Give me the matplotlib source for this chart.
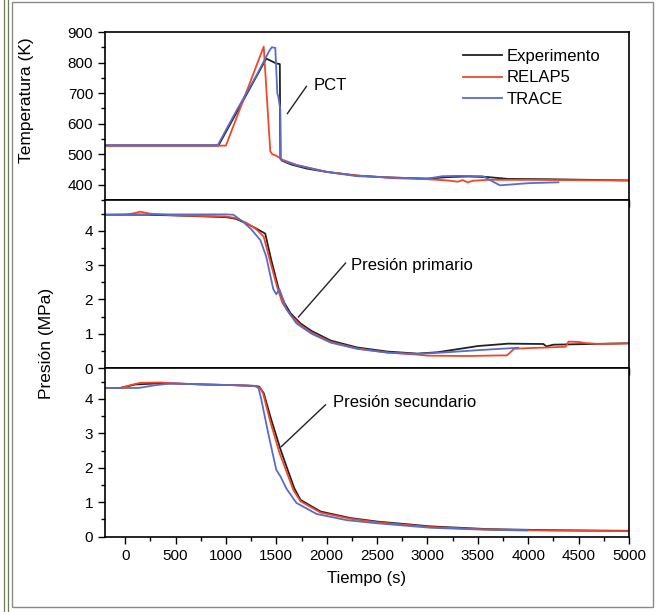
"""
Peak cladding temperature and primary / secondary pressure,
experiment vs RELAP5 vs TRACE
"""
import matplotlib
matplotlib.use('Agg')
import matplotlib.pyplot as plt
from matplotlib.patches import Rectangle
from matplotlib.lines import Line2D
from matplotlib.ticker import MultipleLocator

plt.rcParams['font.family'] = ['Liberation Sans', 'DejaVu Sans']

# %% data
# temperature (K)
t_T_exp = [-200, 925, 1000, 1100, 1200, 1300, 1400, 1500, 1535, 1540, 1560, 1650, 1800, 2000,
           2300, 2600, 3000, 3200, 3400, 3600, 3800, 4200, 4600, 5000]
T_exp = [528, 528, 573, 633, 693, 753, 813, 797, 795, 485, 478, 466, 453, 442,
         430, 424, 420, 425, 427, 425, 419, 418, 416, 414]
t_T_relap = [-200, 1000, 1375, 1440, 1460, 1500, 1560, 1700, 2000, 2300, 2700, 3000, 3200,
             3300, 3350, 3400, 3450, 3600, 4000, 4500, 5000]
T_relap = [528, 528, 852, 510, 500, 495, 482, 465, 442, 430, 421, 418, 414,
           410, 415, 408, 413, 416, 416, 415, 414]
t_T_trace = [-200, 920, 1100, 1300, 1430, 1455, 1490, 1510, 1520, 1540, 1545, 1570, 1700, 2000,
             2300, 2700, 3000, 3150, 3300, 3550, 3650, 3720, 3800, 4000, 4300]
T_trace = [530, 530, 640, 756, 838, 850, 848, 700, 688, 645, 485, 478, 464, 442,
           428, 423, 420, 428, 429, 428, 410, 398, 400, 405, 408]

# primary pressure (MPa)
t_P1_exp = [-200, 0, 200, 500, 800, 1000, 1100, 1200, 1300, 1390, 1450, 1524, 1580, 1640, 1740,
            1850, 2040, 2300, 2600, 2900, 3100, 3300, 3500, 3800, 4150, 4180, 4250, 4600, 5000]
P1_exp = [4.47, 4.47, 4.47, 4.45, 4.42, 4.40, 4.35, 4.22, 4.07, 3.92, 3.15, 2.3, 1.9, 1.6, 1.30,
          1.08, 0.80, 0.60, 0.48, 0.42, 0.46, 0.55, 0.64, 0.71, 0.70, 0.63, 0.68, 0.70, 0.72]
t_P1_relap = [-200, 0, 100, 150, 250, 500, 800, 1000, 1100, 1200, 1300, 1375, 1440, 1508, 1560,
              1640, 1740, 1850, 2040, 2300, 2600, 2900, 3000, 3400, 3790, 3860, 4000, 4200,
              4370, 4400, 4500, 4560, 4700, 5000]
P1_relap = [4.47, 4.47, 4.52, 4.56, 4.50, 4.45, 4.43, 4.42, 4.37, 4.24, 4.05, 3.83, 3.1, 2.37, 1.9,
            1.55, 1.25, 1.03, 0.76, 0.57, 0.45, 0.39, 0.36, 0.35, 0.37, 0.56, 0.58, 0.60,
            0.62, 0.77, 0.76, 0.73, 0.70, 0.72]
t_P1_trace = [-200, 0, 500, 800, 1000, 1075, 1175, 1250, 1342, 1400, 1470, 1500, 1530, 1600,
              1700, 1850, 2040, 2300, 2600, 2900, 3200, 3500, 3900]
P1_trace = [4.47, 4.48, 4.48, 4.48, 4.48, 4.47, 4.25, 4.05, 3.73, 3.25, 2.3, 2.15, 2.3, 1.72,
            1.3, 1.0, 0.74, 0.56, 0.45, 0.41, 0.46, 0.52, 0.59]

# secondary pressure (MPa)
t_P2_exp = [-200, -50, 100, 300, 500, 800, 1100, 1275, 1330, 1375, 1450, 1540, 1613, 1680, 1740,
            1940, 2240, 2500, 3030, 3600, 4200, 5000]
P2_exp = [4.32, 4.32, 4.42, 4.45, 4.45, 4.42, 4.40, 4.38, 4.36, 4.17, 3.4, 2.55, 1.94, 1.4, 1.07,
          0.73, 0.54, 0.44, 0.30, 0.22, 0.19, 0.17]
t_P2_relap = [-200, -50, 50, 150, 350, 500, 800, 1100, 1275, 1340, 1370, 1440, 1530, 1600, 1670,
              1740, 1940, 2240, 2500, 3030, 3600, 4200, 5000]
P2_relap = [4.32, 4.32, 4.40, 4.47, 4.48, 4.45, 4.42, 4.40, 4.38, 4.32, 4.15, 3.35, 2.45, 1.9, 1.35,
            1.03, 0.70, 0.52, 0.42, 0.28, 0.21, 0.18, 0.16]
t_P2_trace = [-200, 130, 300, 450, 800, 1100, 1300, 1325, 1350, 1420, 1500, 1541, 1600, 1700,
              1900, 2200, 2500, 3030, 3600, 3990]
P2_trace = [4.32, 4.32, 4.40, 4.45, 4.42, 4.40, 4.38, 4.30, 4.0, 3.0, 1.94, 1.75, 1.4, 0.98,
            0.66, 0.48, 0.39, 0.26, 0.20, 0.18]

series_names = ['Experimento', 'RELAP5', 'TRACE']
colors = ['#222222', '#f0472a', '#5a6cc6']

# %% figure
fig = plt.figure(figsize=(6.56, 6.12), dpi=100)
left, width = 105/656, 524/656
ax_T = fig.add_axes([left, 1-200/612, width, 168/612])
ax_P1 = fig.add_axes([left, 1-368/612, width, 168/612])
ax_P2 = fig.add_axes([left, 1-536.7/612, width, 168.7/612])

panels = [
    (ax_T, [(t_T_exp, T_exp), (t_T_relap, T_relap), (t_T_trace, T_trace)]),
    (ax_P1, [(t_P1_exp, P1_exp), (t_P1_relap, P1_relap), (t_P1_trace, P1_trace)]),
    (ax_P2, [(t_P2_exp, P2_exp), (t_P2_relap, P2_relap), (t_P2_trace, P2_trace)]),
]
for ax, curves in panels:
    for (t, y), c in zip(curves, colors):
        ax.plot(t, y, color=c, lw=1.3)
    ax.set_xlim(-200, 5000)
    ax.xaxis.set_major_locator(MultipleLocator(500))
    ax.xaxis.set_minor_locator(MultipleLocator(250))
    ax.tick_params(which='both', direction='out', labelsize=11, width=1)
    ax.tick_params(which='major', length=5)
    ax.tick_params(which='minor', length=3)
    for s in ax.spines.values():
        s.set_linewidth(1.2)

ax_T.set_ylim(350, 900)
ax_T.yaxis.set_major_locator(MultipleLocator(100))
ax_T.yaxis.set_minor_locator(MultipleLocator(50))
for ax in (ax_P1, ax_P2):
    ax.set_ylim(0, 4.9)
    ax.yaxis.set_major_locator(MultipleLocator(1))
    ax.yaxis.set_minor_locator(MultipleLocator(0.5))
ax_T.tick_params(axis='x', labelbottom=False)
ax_P1.tick_params(axis='x', labelbottom=False)

# legend
handles = [Line2D([], [], color=c, lw=1.3) for c in colors]
ax_T.legend(handles, series_names, loc='upper left', bbox_to_anchor=(0.667, 0.95),
            frameon=False, fontsize=12, borderpad=0, handlelength=2.35,
            handletextpad=0.3, labelspacing=0.4)

# annotations
ax_T.plot([1610, 1799], [633, 722], color='#222222', lw=1)
ax_T.text(1869, 726, 'PCT', fontsize=12, va='center', ha='left')
ax_P1.plot([1720, 2187], [1.49, 3.06], color='#222222', lw=1)
ax_P1.text(2237, 3.0, 'Presión primario', fontsize=12, va='center', ha='left')
ax_P2.plot([1551, 1988], [2.62, 3.83], color='#222222', lw=1)
ax_P2.text(2058, 3.89, 'Presión secundario', fontsize=12, va='center', ha='left')

# axis labels
fig.text(27/656, 1-100/612, 'Temperatura (K)', rotation=90, fontsize=12.5,
         ha='center', va='center')
fig.text(47/656, 1-343/612, 'Presión (MPa)', rotation=90, fontsize=12.5,
         ha='center', va='center')
fig.text(367/656, 1-578/612, 'Tiempo (s)', fontsize=12, ha='center', va='center')

# page frame from the scan
fig.add_artist(Rectangle((12/656, 1-607/612), 641/656, 605/612, transform=fig.transFigure,
                         fill=False, edgecolor='#8a8a8a', lw=1))
for xp in (4, 8):
    fig.add_artist(Line2D([xp/656, xp/656], [0, 1], transform=fig.transFigure,
                          color='#6f7d55', lw=0.9))

fig.savefig('out.png', dpi=100)
